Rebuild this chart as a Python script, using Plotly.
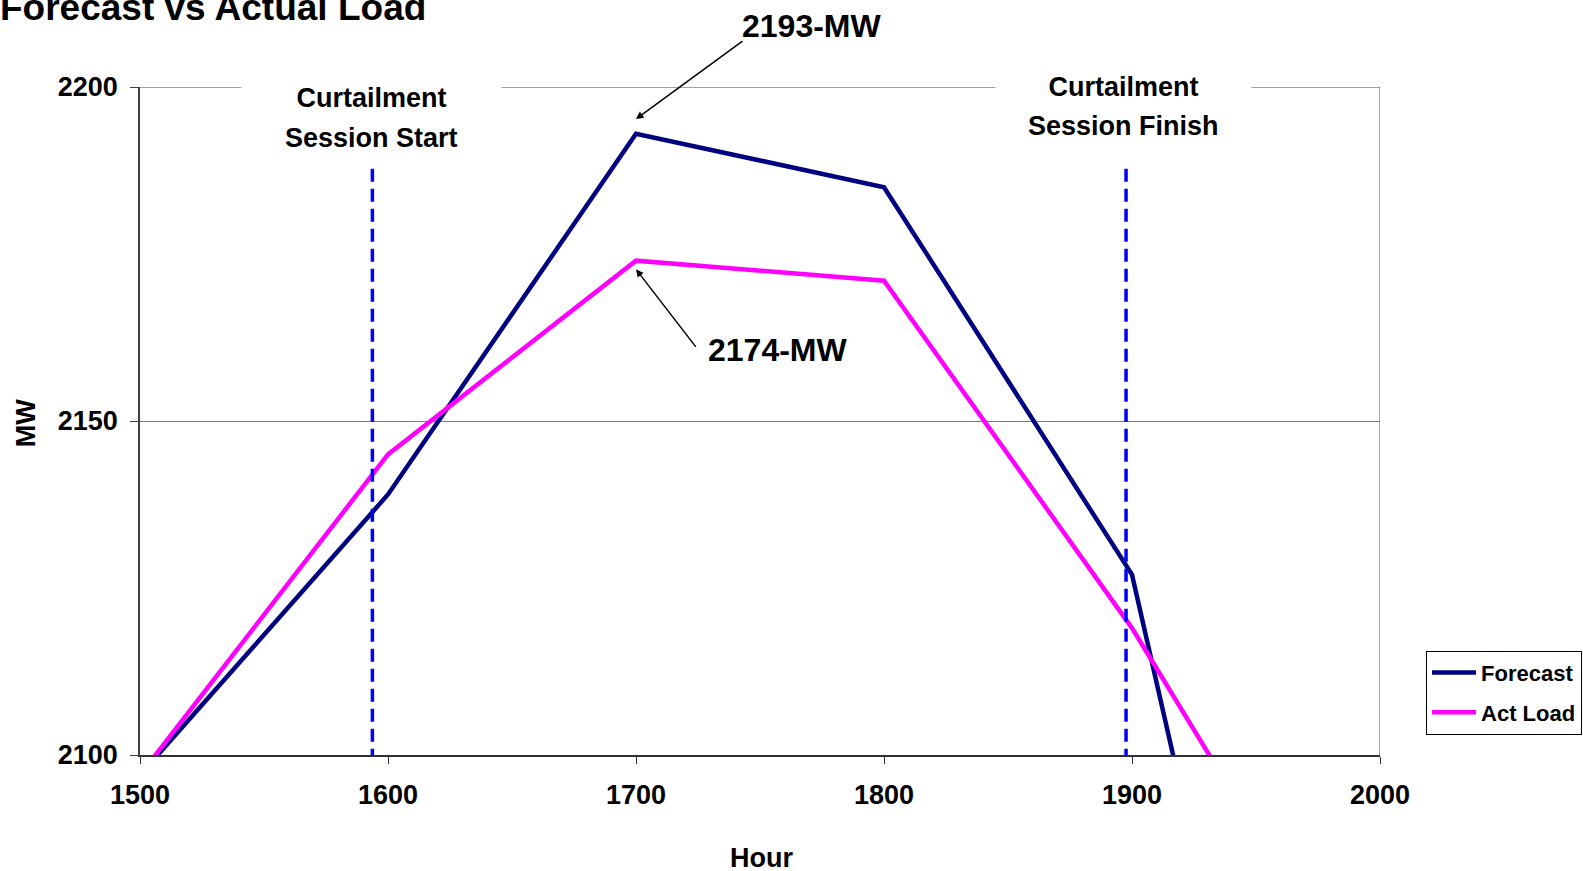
import plotly.graph_objects as go

# ---- data ----
hours = [1500, 1600, 1700, 1800, 1900, 2000]
forecast = [2097, 2139, 2193, 2185, 2127, 1964]
act_load = [2097, 2145, 2174, 2171, 2119, 2058]
series_names = ["Forecast", "Act Load"]
session_start = 1593.7
session_finish = 1897.6
x_ticks = [1500, 1600, 1700, 1800, 1900, 2000]
y_ticks = [2100, 2150, 2200]

FONT = "Liberation Sans, Arial, sans-serif"

fig = go.Figure()
fig.add_trace(go.Scatter(x=hours, y=forecast, mode="lines", name=series_names[0],
                         line=dict(color="#000080", width=4.5), legendgroup="a"))
fig.add_trace(go.Scatter(x=hours, y=act_load, mode="lines", name=series_names[1],
                         line=dict(color="#FF00FF", width=4.5), legendgroup="b"))

shapes = []
for xv in (session_start, session_finish):
    shapes.append(dict(type="line", xref="x", yref="y", x0=xv, x1=xv, y0=2099, y1=2188,
                       line=dict(color="#0000FF", width=3.5, dash="13px,7px"), layer="above"))
# right border and top gridline
shapes.append(dict(type="line", xref="x", yref="paper", x0=2000, x1=2000, y0=0, y1=1,
                   line=dict(color="#808080", width=1.3), layer="below"))
shapes.append(dict(type="line", xref="paper", yref="y", x0=0, x1=1, y0=2200, y1=2200,
                   line=dict(color="#808080", width=1.3), layer="below"))

bold = dict(family=FONT, color="black", weight="bold")
annotations = [
    dict(text="Forecast vs Actual Load", xref="paper", yref="paper", x=-0.1145, y=1.1192,
         xanchor="left", yanchor="middle", showarrow=False, font=dict(size=37, **bold)),
    dict(text="Curtailment", xref="x", yref="paper", x=1593.3, y=0.9829, width=257,
         bgcolor="white", showarrow=False, xanchor="center", yanchor="middle",
         font=dict(size=27, **bold)),
    dict(text="Session Start", xref="x", yref="paper", x=1593.3, y=0.9240,
         showarrow=False, xanchor="center", yanchor="middle", font=dict(size=27, **bold)),
    dict(text="Curtailment", xref="x", yref="paper", x=1896.5, y=1.0003, width=253,
         bgcolor="white", showarrow=False, xanchor="center", yanchor="middle",
         font=dict(size=27, **bold)),
    dict(text="Session Finish", xref="x", yref="paper", x=1896.5, y=0.9415,
         showarrow=False, xanchor="center", yanchor="middle", font=dict(size=27, **bold)),
    dict(text="2193-MW", xref="paper", yref="paper", x=0.5423, y=1.0912,
         showarrow=False, xanchor="center", yanchor="middle", font=dict(size=32, **bold)),
    dict(text="2174-MW", xref="x", yref="y", x=1757.1, y=2160.7,
         showarrow=False, xanchor="center", yanchor="middle", font=dict(size=32, **bold)),
    dict(text="", xref="x", yref="y", x=1700, y=2195.2, ax=108, ay=-79,
         showarrow=True, arrowhead=2, arrowsize=1, arrowwidth=1.5, arrowcolor="black", standoff=0),
    dict(text="", xref="x", yref="y", x=1700, y=2172.7, ax=61, ay=79,
         showarrow=True, arrowhead=2, arrowsize=1, arrowwidth=1.5, arrowcolor="black", standoff=0),
    dict(text="MW", xref="paper", yref="paper", x=-0.0919, y=0.4966, textangle=-90,
         showarrow=False, xanchor="center", yanchor="middle", font=dict(size=27, **bold)),
    dict(text="Hour", xref="paper", yref="paper", x=0.5016, y=-0.1536,
         showarrow=False, xanchor="center", yanchor="middle", font=dict(size=27, **bold)),
]

fig.update_layout(
    width=1583, height=871, autosize=False,
    margin=dict(l=140, r=203, t=87, b=116, pad=0, autoexpand=False),
    paper_bgcolor="white", plot_bgcolor="white",
    shapes=shapes, annotations=annotations,
    showlegend=True,
    legend=dict(x=1.0371, y=0.1561, xanchor="left", yanchor="top",
                bordercolor="black", borderwidth=1, bgcolor="white",
                font=dict(size=22, **bold), tracegroupgap=8, itemwidth=44),
    xaxis=dict(range=[1500, 2000], tickvals=x_ticks, ticktext=[str(v) for v in x_ticks],
               showgrid=False, zeroline=False, showline=True, linecolor="#303030", linewidth=1.5,
               ticks="outside", ticklen=7, tickcolor="#303030", tickwidth=1.3,
               tickfont=dict(size=27, **bold), ticklabelstandoff=8),
    yaxis=dict(range=[2100, 2200], tickvals=y_ticks, ticktext=[str(v) for v in y_ticks],
               showgrid=True, gridcolor="#777777", gridwidth=1.3, zeroline=False,
               showline=True, linecolor="#404040", linewidth=1.5,
               ticks="outside", ticklen=8, tickcolor="#404040", tickwidth=1.3,
               tickfont=dict(size=27, **bold), ticklabelstandoff=7),
)

fig.write_html("out.html")
